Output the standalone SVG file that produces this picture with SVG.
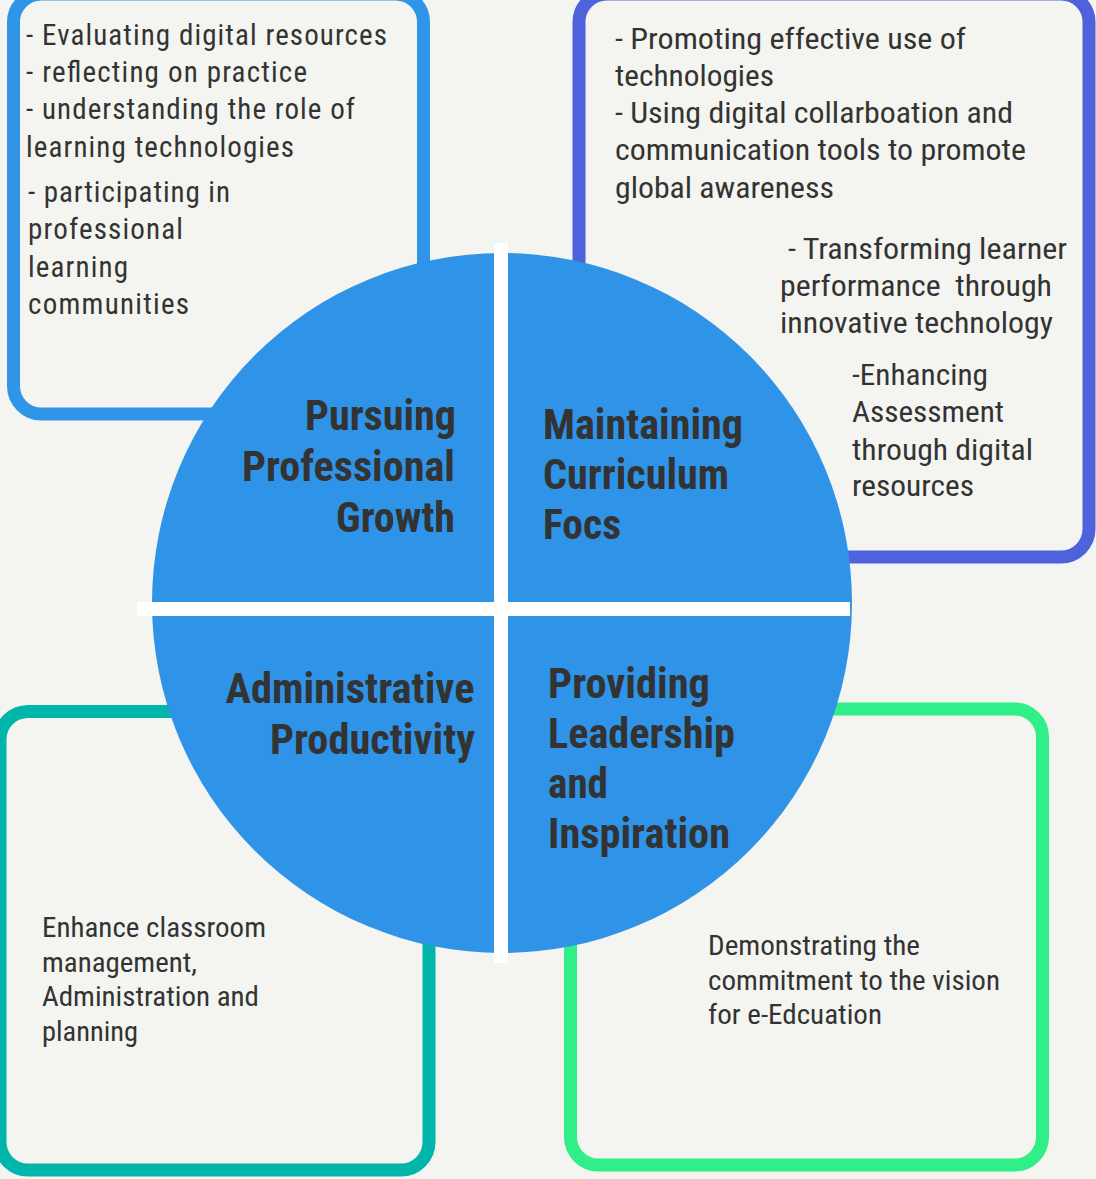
<svg xmlns="http://www.w3.org/2000/svg" width="1096" height="1179" viewBox="0 0 1096 1179">
<style>
.box{fill:#F4F5F0;stroke-width:13}
.t{font-family:"Roboto Condensed",Roboto,"Liberation Sans",sans-serif;fill:#333333}
.b1{font-size:29px}
.b2{font-size:27px}
.h{font-size:42px;font-weight:bold}
</style>
<rect width="1096" height="1179" fill="#F4F5F0"/>
<g id="box-professional-growth">
<rect class="box" x="13.5" y="-6" width="410" height="420" rx="28" stroke="#3094E9"/>
<text class="t b1" lengthAdjust="spacingAndGlyphs">
<tspan x="26" y="45" textLength="361">- Evaluating digital resources</tspan>
<tspan x="26" y="82" textLength="281">- reflecting on practice</tspan>
<tspan x="26" y="119" textLength="329">- understanding the role of</tspan>
<tspan x="26" y="157" textLength="268">learning technologies</tspan>
<tspan x="28" y="202" textLength="202">- participating in</tspan>
<tspan x="28" y="239" textLength="155">professional</tspan>
<tspan x="28" y="277" textLength="100">learning</tspan>
<tspan x="28" y="314" textLength="161">communities</tspan>
</text>
</g>
<g id="box-curriculum-focus">
<rect class="box" x="579" y="-6" width="510" height="563" rx="28" stroke="#4E62DC"/>
<text class="t b1">
<tspan x="615" y="49" textLength="351" lengthAdjust="spacingAndGlyphs">- Promoting effective use of</tspan>
<tspan x="615" y="86" textLength="159" lengthAdjust="spacingAndGlyphs">technologies</tspan>
<tspan x="615" y="123" textLength="398" lengthAdjust="spacingAndGlyphs">- Using digital collarboation and</tspan>
<tspan x="615" y="160" textLength="411" lengthAdjust="spacingAndGlyphs">communication tools to promote</tspan>
<tspan x="615" y="198" textLength="219" lengthAdjust="spacingAndGlyphs">global awareness</tspan>
<tspan x="788" y="259" textLength="279" lengthAdjust="spacingAndGlyphs">- Transforming learner</tspan>
<tspan x="780" y="296" textLength="272" lengthAdjust="spacingAndGlyphs">performance&#160; through</tspan>
<tspan x="780" y="333" textLength="273" lengthAdjust="spacingAndGlyphs">innovative technology</tspan>
<tspan x="852" y="385" textLength="136" lengthAdjust="spacingAndGlyphs">-Enhancing</tspan>
<tspan x="852" y="422" textLength="152" lengthAdjust="spacingAndGlyphs">Assessment</tspan>
<tspan x="852" y="460" textLength="181" lengthAdjust="spacingAndGlyphs">through digital</tspan>
<tspan x="852" y="496" textLength="122" lengthAdjust="spacingAndGlyphs">resources</tspan>
</text>
</g>
<g id="box-administrative-productivity">
<rect class="box" x="0" y="711.5" width="429" height="458.5" rx="28" stroke="#00B6AA"/>
<text class="t b2">
<tspan x="42" y="937" textLength="224" lengthAdjust="spacingAndGlyphs">Enhance classroom</tspan>
<tspan x="42" y="972" textLength="155" lengthAdjust="spacingAndGlyphs">management,</tspan>
<tspan x="42" y="1006" textLength="217" lengthAdjust="spacingAndGlyphs">Administration and</tspan>
<tspan x="42" y="1041" textLength="96" lengthAdjust="spacingAndGlyphs">planning</tspan>
</text>
</g>
<g id="box-leadership">
<rect class="box" x="570.5" y="709" width="472" height="456" rx="28" stroke="#31EF88"/>
<text class="t b2">
<tspan x="708" y="955" textLength="212" lengthAdjust="spacingAndGlyphs">Demonstrating the</tspan>
<tspan x="708" y="990" textLength="292" lengthAdjust="spacingAndGlyphs">commitment to the vision</tspan>
<tspan x="708" y="1024" textLength="174" lengthAdjust="spacingAndGlyphs">for e-Edcuation</tspan>
</text>
</g>
<g id="circle">
<circle cx="502" cy="603" r="350" fill="#2F93E8"/>
</g>
<g id="connectors">
<rect x="494" y="243" width="14" height="720" fill="#FFFFFF"/>
<rect x="137" y="602" width="713" height="14" fill="#FFFFFF"/>
</g>
<g id="label-pursuing">
<text class="t h">
<tspan x="305" y="430" textLength="151" lengthAdjust="spacingAndGlyphs">Pursuing</tspan>
<tspan x="242" y="481" textLength="213" lengthAdjust="spacingAndGlyphs">Professional</tspan>
<tspan x="336" y="532" textLength="119" lengthAdjust="spacingAndGlyphs">Growth</tspan>
</text>
</g>
<g id="label-maintaining">
<text class="t h">
<tspan x="543" y="439" textLength="200" lengthAdjust="spacingAndGlyphs">Maintaining</tspan>
<tspan x="543" y="489" textLength="186" lengthAdjust="spacingAndGlyphs">Curriculum</tspan>
<tspan x="543" y="539" textLength="78" lengthAdjust="spacingAndGlyphs">Focs</tspan>
</text>
</g>
<g id="label-administrative">
<text class="t h">
<tspan x="225.5" y="702.5" textLength="249" lengthAdjust="spacingAndGlyphs">Administrative</tspan>
<tspan x="270" y="754" textLength="205" lengthAdjust="spacingAndGlyphs">Productivity</tspan>
</text>
</g>
<g id="label-providing">
<text class="t h">
<tspan x="548" y="698" textLength="162" lengthAdjust="spacingAndGlyphs">Providing</tspan>
<tspan x="548" y="748" textLength="187" lengthAdjust="spacingAndGlyphs">Leadership</tspan>
<tspan x="548" y="798" textLength="60" lengthAdjust="spacingAndGlyphs">and</tspan>
<tspan x="548" y="848" textLength="182" lengthAdjust="spacingAndGlyphs">Inspiration</tspan>
</text>
</g>
</svg>
